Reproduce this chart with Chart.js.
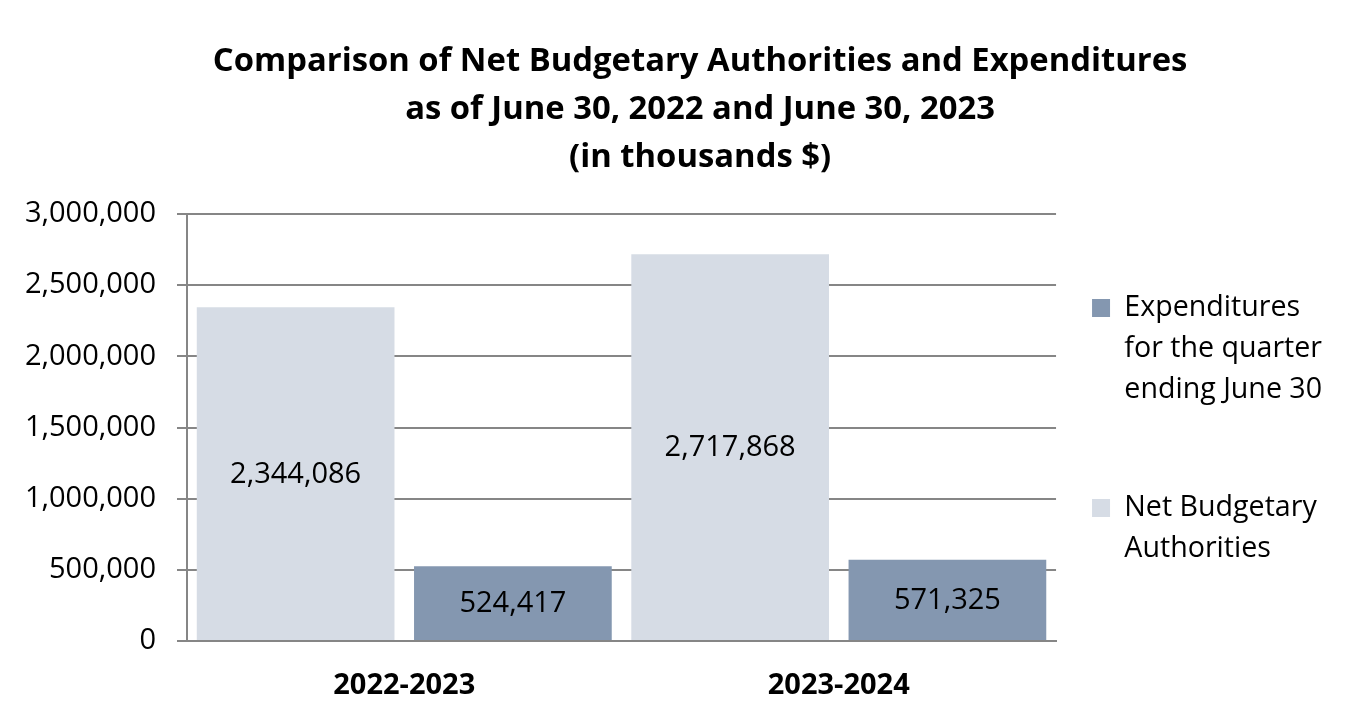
<!DOCTYPE html>
<html>
<head>
<meta charset="utf-8">
<script src="https://cdn.jsdelivr.net/npm/chart.js@4"></script>
<style>
  html, body { margin: 0; padding: 0; background: #ffffff; }
  #wrap { width: 1352px; height: 718px; }
</style>
</head>
<body>
<div id="wrap"><canvas id="c" width="1352" height="718"></canvas></div>
<script>
const categories = ['2022-2023', '2023-2024'];
const netAuthorities = [2344086, 2717868];
const expenditures = [524417, 571325];
const yTickStep = 500000;
const yMax = 3000000;
const netLabel = ['Net Budgetary', 'Authorities'];
const expLabel = ['Expenditures', 'for the quarter', 'ending June 30', ''];
const titleLines = [
  'Comparison of Net Budgetary Authorities and Expenditures',
  'as of June 30, 2022 and June 30, 2023',
  '(in thousands $)'
];

const FAMILY = '"Open Sans", Lato, sans-serif';
const fmt = v => v.toLocaleString('en-US');

// font-size fitting helper (text measurement only)
const mctx = document.createElement('canvas').getContext('2d');
function fitSize(text, weight, target) {
  mctx.font = weight + ' 100px ' + FAMILY;
  return Math.round(target / mctx.measureText(text).width * 1000) / 10;
}
function textW(text, weight, size) {
  mctx.font = weight + ' ' + size + 'px ' + FAMILY;
  return mctx.measureText(text).width;
}

const tickSize = fitSize('3,000,000', 'normal', 131);
const xSize = fitSize('2023-2024', 'bold', 142);
const titleSize = fitSize(titleLines[0], 'bold', 975);
const legendSize = fitSize('for the quarter', 'normal', 198);

// layout targets
const plotLeft = 187, plotRight = 1056, plotTop = 214, plotBottom = 641;
const W = 1352, H = 718;
const legendPad = 36, boxW = 18;
const legendTextW = Math.max(...expLabel.concat(netLabel).map(t => textW(t, 'normal', legendSize)));
const legendWidth = 10 + legendPad + boxW + legendSize / 2 + legendTextW;
const padRight = Math.max(0, W - plotRight - legendWidth);

// shift title centre to x≈699
const titleCenter0 = (0 + W - padRight) / 2;
const nbspW = textW('\u00A0', 'bold', titleSize);
const nPad = Math.max(0, Math.round(2 * (699 - titleCenter0) / nbspW));
const pad = '\u00A0'.repeat(nPad);

const barLabels = {
  id: 'barLabels',
  afterDatasetsDraw(chart) {
    const ctx = chart.ctx;
    ctx.save();
    ctx.font = tickSize + 'px ' + FAMILY;
    ctx.fillStyle = '#000000';
    ctx.textAlign = 'center';
    ctx.textBaseline = 'middle';
    chart.data.datasets.forEach((ds, di) => {
      const meta = chart.getDatasetMeta(di);
      meta.data.forEach((bar, i) => {
        const p = bar.getProps(['x', 'y', 'base'], true);
        ctx.fillText(fmt(ds.data[i]), p.x, (p.y + p.base) / 2 + 1);
      });
    });
    ctx.restore();
  }
};

new Chart(document.getElementById('c'), {
  type: 'bar',
  data: {
    labels: categories,
    datasets: [
      { label: netLabel, data: netAuthorities, backgroundColor: '#D6DCE5' },
      { label: expLabel, data: expenditures, backgroundColor: '#8497B0' }
    ]
  },
  options: {
    responsive: false,
    animation: false,
    devicePixelRatio: 1,
    categoryPercentage: 1.0,
    barPercentage: 0.91,
    layout: { padding: { left: 0, right: padRight, top: 14, bottom: 0 } },
    plugins: {
      title: {
        display: true,
        fullSize: true,
        text: titleLines.map(t => pad + t),
        color: '#000000',
        font: { family: FAMILY, size: titleSize, weight: 'bold', lineHeight: '48px' },
        padding: { top: 24, bottom: plotTop - 14 - 24 - 144 }
      },
      legend: {
        position: 'right',
        fullSize: false,
        align: 'start',
        reverse: true,
        title: { display: true, text: ' ', font: { size: 10, lineHeight: '10px' }, padding: { top: 308 - plotTop - legendPad - legendSize / 2 - 10, bottom: 0 } },
        labels: {
          color: '#000000',
          font: { family: FAMILY, size: legendSize, lineHeight: '41px' },
          boxWidth: boxW,
          boxHeight: 18,
          padding: legendPad
        }
      },
      tooltip: { enabled: false }
    },
    scales: {
      x: {
        grid: { display: false, drawTicks: false },
        border: { display: true, color: '#868686', width: 2 },
        ticks: { color: '#000000', font: { family: FAMILY, size: xSize, weight: 'bold', lineHeight: 1.2 }, padding: 45 - xSize * 0.6 },
        afterFit: s => { s.height = H - plotBottom; }
      },
      y: {
        min: 0,
        max: yMax,
        ticks: {
          stepSize: yTickStep,
          color: '#000000',
          font: { family: FAMILY, size: tickSize },
          padding: 21,
          callback: v => fmt(v)
        },
        grid: { color: '#868686', lineWidth: 2, tickLength: 10, drawTicks: true },
        border: { display: true, color: '#868686', width: 2 },
        afterFit: s => { s.width = plotLeft; }
      }
    }
  },
  plugins: [barLabels]
});
</script>
</body>
</html>
